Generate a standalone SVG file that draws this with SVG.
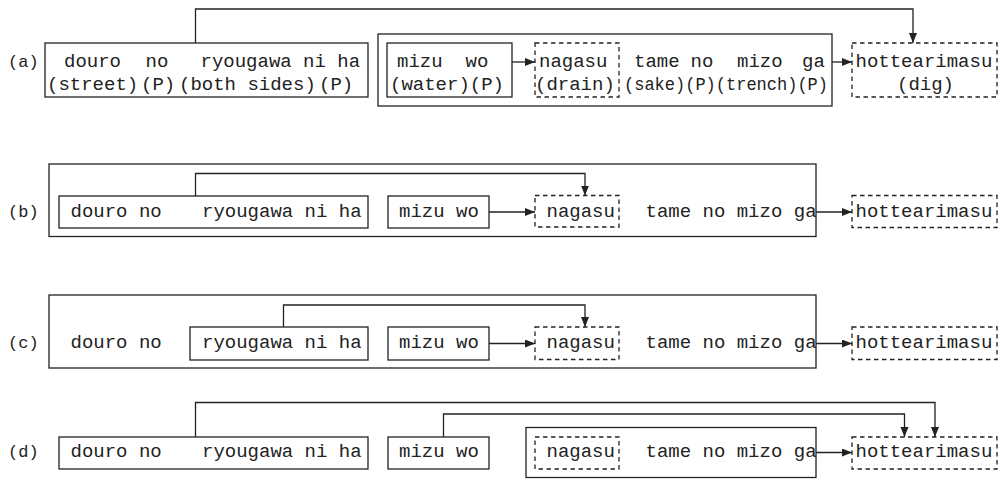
<svg xmlns="http://www.w3.org/2000/svg" width="1001" height="481" viewBox="0 0 1001 481">
<style>
text{font-family:"Liberation Mono","Courier New",monospace;font-size:19px;fill:#222}
.lbl{font-size:17px}
.box{fill:none;stroke:#222;stroke-width:1.3}
.dbox{fill:none;stroke:#222;stroke-width:1.3;stroke-dasharray:4.5,3.5}
.con{fill:none;stroke:#222;stroke-width:1.3}
</style>
<defs>
<marker id="arr" markerUnits="userSpaceOnUse" markerWidth="11" markerHeight="9" refX="10" refY="4" orient="auto">
<path d="M0,0 L10,4 L0,8 z" fill="#222"/>
</marker>
</defs>
<rect width="1001" height="481" fill="#fff"/>

<!-- row a -->
<g id="label-a"><text class="lbl" x="8" y="67">(a)</text></g>
<g id="a-douro">
<rect class="box" x="45" y="43" width="323" height="54"/>
<text x="64" y="67">douro</text><text x="145.5" y="67">no</text><text x="200.5" y="67">ryougawa ni ha</text>
<text x="47" y="90">(street)</text><text x="141" y="90">(P)</text><text x="179" y="90">(both sides)</text><text x="319" y="90">(P)</text>
</g>
<g id="a-group"><rect class="box" x="378" y="34" width="454" height="72"/></g>
<g id="a-mizu">
<rect class="box" x="387" y="43" width="125" height="54"/>
<text x="397" y="67">mizu</text><text x="465.5" y="67">wo</text>
<text x="390" y="90">(water)(P)</text>
</g>
<g id="a-nagasu">
<rect class="dbox" x="535" y="43" width="84" height="54"/>
<text x="539" y="67">nagasu</text><text x="535" y="90">(drain)</text>
</g>
<g id="a-tame">
<text x="634" y="67">tame</text><text x="690.5" y="67">no</text><text x="737" y="67">mizo</text><text x="802" y="67">ga</text>
<text x="624" y="90" textLength="204" lengthAdjust="spacingAndGlyphs">(sake)(P)(trench)(P)</text>
</g>
<g id="a-hotte">
<rect class="dbox" x="852" y="43" width="145" height="54"/>
<text x="855.5" y="67">hottearimasu</text><text x="897" y="90">(dig)</text>
</g>

<!-- row b -->
<g id="label-b"><text class="lbl" x="8" y="217">(b)</text></g>
<g id="b-group"><rect class="box" x="49" y="164" width="767" height="72.5"/></g>
<g id="b-douro">
<rect class="box" x="59" y="196" width="309" height="32"/>
<text x="70.5" y="217">douro no</text><text x="202" y="217">ryougawa ni ha</text>
</g>
<g id="b-mizu"><rect class="box" x="388" y="196" width="101" height="32"/><text x="399" y="217">mizu wo</text></g>
<g id="b-nagasu"><rect class="dbox" x="535" y="195.5" width="84" height="31.5"/><text x="546.5" y="217">nagasu</text></g>
<g id="b-tame"><text x="645.5" y="217">tame no mizo ga</text></g>
<g id="b-hotte"><rect class="dbox" x="852" y="195.5" width="145" height="32"/><text x="855.5" y="217">hottearimasu</text></g>

<!-- row c -->
<g id="label-c"><text class="lbl" x="8" y="348">(c)</text></g>
<g id="c-group"><rect class="box" x="49" y="295" width="767" height="73"/></g>
<g id="c-douro"><text x="70.5" y="348">douro no</text></g>
<g id="c-ryou"><rect class="box" x="190" y="327" width="178" height="33"/><text x="202" y="348">ryougawa ni ha</text></g>
<g id="c-mizu"><rect class="box" x="388" y="327" width="101" height="33"/><text x="399" y="348">mizu wo</text></g>
<g id="c-nagasu"><rect class="dbox" x="535" y="327" width="84" height="32.5"/><text x="546.5" y="348">nagasu</text></g>
<g id="c-tame"><text x="645.5" y="348">tame no mizo ga</text></g>
<g id="c-hotte"><rect class="dbox" x="852" y="327" width="145" height="32.5"/><text x="855.5" y="348">hottearimasu</text></g>

<!-- row d -->
<g id="label-d"><text class="lbl" x="8" y="457">(d)</text></g>
<g id="d-douro">
<rect class="box" x="59" y="437" width="309" height="32"/>
<text x="70.5" y="457">douro no</text><text x="202" y="457">ryougawa ni ha</text>
</g>
<g id="d-mizu"><rect class="box" x="388" y="437" width="101" height="32"/><text x="399" y="457">mizu wo</text></g>
<g id="d-group"><rect class="box" x="526" y="427.5" width="290" height="50"/></g>
<g id="d-nagasu"><rect class="dbox" x="535" y="437" width="84" height="32"/><text x="546.5" y="457">nagasu</text></g>
<g id="d-tame"><text x="645.5" y="457">tame no mizo ga</text></g>
<g id="d-hotte"><rect class="dbox" x="852" y="437" width="145" height="32"/><text x="855.5" y="457">hottearimasu</text></g>

<!-- connectors -->
<g id="connectors">
<path class="con" d="M195.5,43 V9 H913 V43" marker-end="url(#arr)"/>
<path class="con" d="M512,62 H535" marker-end="url(#arr)"/>
<path class="con" d="M832,62 H852" marker-end="url(#arr)"/>

<path class="con" d="M195.5,196 V173.5 H585 V195.5" marker-end="url(#arr)"/>
<path class="con" d="M489,212 H535" marker-end="url(#arr)"/>
<path class="con" d="M816,212 H852" marker-end="url(#arr)"/>

<path class="con" d="M283.5,327 V305 H585 V327" marker-end="url(#arr)"/>
<path class="con" d="M489,343.5 H535" marker-end="url(#arr)"/>
<path class="con" d="M816,343.5 H852" marker-end="url(#arr)"/>

<path class="con" d="M195.5,437 V402.5 H935 V437" marker-end="url(#arr)"/>
<path class="con" d="M443.5,437 V414 H904.5 V437" marker-end="url(#arr)"/>
<path class="con" d="M816,452.5 H852" marker-end="url(#arr)"/>
</g>
</svg>
